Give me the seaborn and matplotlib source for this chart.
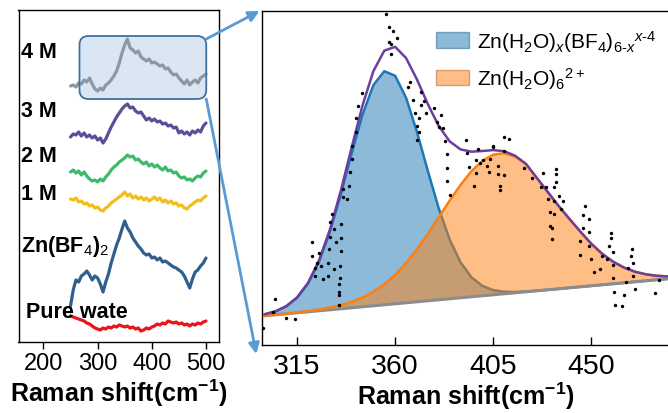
import matplotlib
matplotlib.use("Agg")
import matplotlib.pyplot as plt
import numpy as np
import pandas as pd
import seaborn as sns
from matplotlib.patches import FancyBboxPatch, ConnectionPatch, Patch
from matplotlib.transforms import IdentityTransform

# ---------------- data: left panel (stacked spectra) ----------------
shift = [250, 255, 260, 265, 270, 275, 280, 285, 290, 295, 300, 305, 310, 315, 320, 325, 330,
         335, 340, 345, 350, 355, 360, 365, 370, 375, 380, 385, 390, 395, 400, 405, 410, 415,
         420, 425, 430, 435, 440, 445, 450, 455, 460, 465, 470, 475, 480, 485, 490, 495, 500]

m4 = [256, 257, 255, 259, 258, 262, 260, 264, 258, 253, 251, 254, 252, 257, 259, 262, 266,
      271, 279, 289, 297, 303, 294, 292, 289, 291, 285, 283, 281, 283, 279, 280, 278, 276,
      277, 273, 274, 270, 267, 268, 264, 261, 258, 262, 257, 260, 262, 259, 264, 266, 268]
m3 = [205, 208, 207, 210, 206, 209, 205, 207, 204, 206, 202, 204, 199, 203, 209, 215, 220,
      225, 229, 233, 236, 238, 234, 235, 231, 229, 230, 226, 222, 224, 221, 223, 220, 221,
      218, 219, 216, 217, 214, 215, 209, 211, 208, 210, 207, 211, 209, 212, 210, 216, 219]
m2 = [170, 172, 169, 171, 167, 170, 166, 163, 161, 162, 160, 163, 161, 165, 168, 172, 175,
      177, 180, 182, 184, 187, 185, 186, 182, 183, 180, 178, 180, 176, 178, 175, 177, 174,
      172, 175, 171, 172, 169, 170, 166, 164, 165, 162, 163, 161, 164, 166, 165, 169, 171]
m1 = [143, 142, 144, 140, 141, 138, 139, 136, 137, 134, 135, 132, 131, 134, 136, 139, 141,
      143, 145, 147, 150, 146, 148, 144, 146, 143, 145, 142, 144, 141, 143, 145, 142, 144,
      140, 142, 139, 141, 138, 139, 136, 137, 134, 133, 136, 138, 140, 142, 141, 144, 146]
znbf4 = [36, 52, 62, 60, 66, 68, 71, 67, 62, 66, 64, 58, 50, 60, 68, 79, 88,
         97, 104, 113, 121, 114, 110, 104, 100, 96, 93, 89, 87, 88, 84, 85, 82, 84,
         80, 81, 79, 77, 75, 74, 72, 70, 66, 60, 54, 63, 70, 72, 76, 79, 84]
water = [26, 25, 24, 23, 22, 21, 19, 18, 16, 14, 13, 12, 14, 13, 15, 14, 16,
         15, 17, 16, 15, 16, 14, 15, 13, 14, 11, 12, 14, 13, 15, 16, 18, 17,
         19, 18, 21, 20, 19, 20, 18, 19, 17, 18, 16, 18, 17, 19, 18, 20, 21]

series_names = ["4 M", "3 M", "2 M", "1 M", r"Zn(BF$_4$)$_2$", "Pure wate"]
series_vals = [m4, m3, m2, m1, znbf4, water]
series_colors = ["#8c99a4", "#5c4f99", "#3dba6b", "#f3be1c", "#2f5f8f", "#e8151b"]
label_y = [290, 231, 186, 148, 96, 30]
left_ticks = [200, 300, 400, 500]

# ---------------- data: right panel (peak fit) ----------------
fit_x = [300, 305, 310, 315, 320, 325, 330, 335, 340, 345, 350, 355, 360, 365, 370, 375, 380,
         385, 390, 395, 400, 405, 410, 415, 420, 425, 430, 435, 440, 445, 450, 455, 460, 465,
         470, 475, 480, 485]
baseline = [29.2, 30.2, 31.2, 32.2, 33.2, 34.2, 35.2, 36.2, 37.2, 38.2, 39.2, 40.2, 41.2, 42.2,
            43.2, 44.2, 45.2, 46.2, 47.2, 48.2, 49.2, 50.2, 51.2, 52.2, 53.2, 54.2, 55.2, 56.2,
            57.2, 58.2, 59.2, 60.2, 61.2, 62.2, 63.2, 64.2, 65.2, 66.2]
peak_blue = [30.6, 33.5, 38.6, 47.2, 61.4, 82.9, 112.8, 150.1, 191.3, 230.2, 259.8, 273.8, 269.2,
             247.2, 213.1, 174.0, 136.6, 105.5, 82.7, 67.7, 59.1, 54.8, 53.2, 53.0, 53.5, 54.3,
             55.2, 56.2, 57.2, 58.2, 59.2, 60.2, 61.2, 62.2, 63.2, 64.2, 65.2, 66.2]
peak_orange = [29.2, 30.3, 31.4, 32.6, 33.9, 35.5, 37.4, 39.8, 43.1, 47.5, 53.2, 60.7, 70.2,
               81.9, 95.6, 111.0, 127.6, 144.3, 160.1, 173.8, 184.1, 190.3, 191.8, 188.5, 180.9,
               167.0, 153.0, 139.0, 126.0, 113.3, 101.2, 91.2, 83.3, 77.4, 73.3, 70.7, 69.2, 68.6]
fit_total = [30.6, 33.6, 38.8, 47.6, 62.1, 84.2, 115.0, 153.7, 197.2, 239.5, 273.8, 294.3, 298.2,
             286.9, 265.5, 240.8, 219.0, 203.6, 195.6, 193.3, 194.0, 194.9, 193.8, 189.3, 181.2,
             167.1, 153.0, 139.0, 126.0, 113.3, 101.2, 91.2, 83.3, 77.4, 73.3, 70.7, 69.2, 68.6]

dot_x = [356, 357, 359, 361, 357, 358, 358, 345, 343, 342, 342, 340, 340, 339.5,
         339, 336, 336, 338, 331, 330, 335, 332, 330, 335, 322, 333, 329.5, 335, 322, 325,
         329, 324, 334.5, 326, 323, 332, 323, 329, 327, 334.5, 334, 334, 334, 334, 305, 304,
         310, 314, 299.5, 367, 366,
         372, 368, 373, 372, 369, 374, 378, 381, 371, 379, 370, 380, 382, 371, 370, 383, 392.5,
         410, 412, 405, 405, 398, 410, 393, 384, 403.5, 400.5, 397, 399, 402, 394, 407, 419,
         384, 403, 397, 407, 410, 423, 384, 396, 408, 408, 385,
         434, 434, 428, 434, 427, 429, 433, 435, 437, 430, 433, 436, 431, 433, 447, 446, 449,
         431, 432, 446, 449, 432, 459, 459, 445, 449, 458, 460, 468.5, 445, 468, 455, 457, 450,
         469, 460, 454, 467, 451, 469, 460, 481, 466, 470, 479, 460.5, 465, 461, 464]
dot_y = [331, 318, 314, 307, 303, 301, 291, 252, 239, 227, 213, 199, 186, 173,
         159, 156, 148, 146, 131, 123, 121, 116, 108, 107, 103, 103, 96, 94, 89, 92,
         82, 82, 79, 79, 77, 76, 69, 69, 66, 67, 61, 53, 50, 40, 46, 33,
         27, 26, 17, 263, 258,
         253, 245, 244, 240, 232, 232, 237, 230, 227, 223, 219, 218, 217, 213, 205, 204, 205,
         208, 206, 199, 198, 196, 194, 192, 191, 186, 185, 185, 182, 179, 178, 179, 177,
         177, 173, 172, 171, 170, 167, 164, 159, 159, 155, 150,
         176, 171, 172, 163, 158, 158, 158, 149, 144, 146, 144, 136, 133, 131, 139, 130, 126,
         119, 117, 117, 113, 106, 112, 107, 104, 99, 99, 93, 96, 90, 89, 89, 86, 86,
         82, 80, 76, 77, 73, 69, 67, 65, 63, 56, 52, 53, 50, 40, 39]
right_ticks = [315, 360, 405, 450]
legend_labels = [r"Zn(H$_2$O)$_x$(BF$_4$)$_{6\text{-}x}$$^{x\text{-}4}$",
                 r"Zn(H$_2$O)$_6$$^{2+}$"]

# ---------------- style ----------------
sns.set_theme(style="white")
plt.rcParams["font.family"] = ["Liberation Sans", "DejaVu Sans"]
plt.rcParams["mathtext.fontset"] = "custom"
plt.rcParams["mathtext.rm"] = "Liberation Sans"
plt.rcParams["mathtext.it"] = "Liberation Sans:italic"
plt.rcParams["mathtext.bf"] = "Liberation Sans:bold"
plt.rcParams["text.color"] = "black"
plt.rcParams["axes.labelcolor"] = "black"
plt.rcParams["xtick.color"] = "black"
plt.rcParams["xtick.labelcolor"] = "black"

W, H = 668, 414
fig = plt.figure(figsize=(W / 100, H / 100), dpi=100)
ax1 = fig.add_axes([18.5 / W, (H - 343) / H, 200.5 / W, 332 / H])
ax2 = fig.add_axes([262 / W, (H - 346) / H, 408 / W, 334 / H])

# ---------- left panel ----------
rows = []
for name, vals in zip(series_names, series_vals):
    for xv, yv in zip(shift, vals):
        rows.append({"shift": xv, "intensity": yv, "sample": name})
df_left = pd.DataFrame(rows)
sns.lineplot(data=df_left, x="shift", y="intensity", hue="sample", hue_order=series_names,
             palette=dict(zip(series_names, series_colors)), estimator=None, sort=False,
             linewidth=2.3, legend=False, ax=ax1, zorder=3)
ax1.set_xlim(154, 524)
ax1.set_ylim(0, 332)
ax1.set_xticks(left_ticks)
ax1.set_yticks([])
ax1.set_ylabel("")
ax1.set_xlabel(r"Raman shift(cm$^{\mathbf{-1}}$)", fontsize=18, fontweight="bold", labelpad=2)
ax1.tick_params(axis="x", direction="out", length=5, width=1, labelsize=17, pad=2,
                bottom=True, color="black", labelcolor="black")
for s in ax1.spines.values():
    s.set_color("black")
    s.set_linewidth(1.0)
for name, ly in zip(series_names, label_y):
    xpos = 167 if name.startswith("Pure") else 158
    ax1.text(xpos, ly, name, fontsize=15.5, fontweight="bold", va="center", ha="left",
             color="black", zorder=4)

# rounded highlight box around part of the 4 M trace
fig.canvas.draw()
(bx0, by0) = ax1.transData.transform((266.5, 243))
(bx1, by1) = ax1.transData.transform((500.5, 306))
box = FancyBboxPatch((bx0, by0), bx1 - bx0, by1 - by0,
                     boxstyle="round,pad=0,rounding_size=9", transform=IdentityTransform(),
                     facecolor="#dae6f3", edgecolor="none", zorder=1.5, clip_on=False)
box_edge = FancyBboxPatch((bx0, by0), bx1 - bx0, by1 - by0,
                          boxstyle="round,pad=0,rounding_size=9", transform=IdentityTransform(),
                          facecolor="none", edgecolor="#41719c", linewidth=1.3, zorder=5,
                          clip_on=False)
ax1.add_patch(box)
ax1.add_patch(box_edge)

# ---------- right panel ----------
ax2.fill_between(fit_x, baseline, peak_blue, color="tab:blue", alpha=0.5, linewidth=0, zorder=1)
sns.lineplot(x=fit_x, y=peak_blue, color="tab:blue", linewidth=1.8, ax=ax2, zorder=2)
ax2.fill_between(fit_x, baseline, peak_orange, color="tab:orange", alpha=0.5, linewidth=0, zorder=3)
sns.lineplot(x=fit_x, y=baseline, color="#8c8c8c", linewidth=2.2, ax=ax2, zorder=4)
sns.lineplot(x=fit_x, y=peak_orange, color="tab:orange", linewidth=1.8, ax=ax2, zorder=5)
sns.lineplot(x=fit_x, y=fit_total, color="#6a3f9e", linewidth=1.8, ax=ax2, zorder=6)
sns.scatterplot(x=dot_x, y=dot_y, color="black", marker="o", s=6, linewidth=0, ax=ax2, zorder=7)
ax2.set_xlim(298.9, 486.1)
ax2.set_ylim(0, 334)
ax2.set_xticks(right_ticks)
ax2.set_yticks([])
ax2.set_xlabel(r"Raman shift(cm$^{\mathbf{-1}}$)", fontsize=18, fontweight="bold", labelpad=0)
ax2.tick_params(axis="x", direction="in", length=6, width=1, labelsize=20.5, pad=6,
                bottom=True, color="black", labelcolor="black")
for s in ax2.spines.values():
    s.set_color("black")
    s.set_linewidth(1.0)

handles = [Patch(facecolor="tab:blue", alpha=0.5, edgecolor="#1f5f90", linewidth=1),
           Patch(facecolor="tab:orange", alpha=0.5, edgecolor="#b0601a", linewidth=1)]
ax2.legend(handles, legend_labels, loc="upper left", bbox_to_anchor=(0.405, 0.975),
           frameon=False, fontsize=15, handlelength=1.6, handleheight=0.8,
           handletextpad=0.4, labelspacing=0.55, borderaxespad=0)

# ---------- connector arrows ----------
arrow_kw = dict(arrowstyle="-|>", color="#5b9bd5", linewidth=2, mutation_scale=16,
                shrinkA=0, shrinkB=0)
con1 = ConnectionPatch(xyA=(500.5, 303), coordsA=ax1.transData,
                       xyB=(-0.006, 1.0), coordsB=ax2.transAxes, **arrow_kw)
con2 = ConnectionPatch(xyA=(500.5, 243), coordsA=ax1.transData,
                       xyB=(-0.014, -0.027), coordsB=ax2.transAxes, **arrow_kw)
fig.add_artist(con1)
fig.add_artist(con2)

fig.savefig("out.png", dpi=100)
